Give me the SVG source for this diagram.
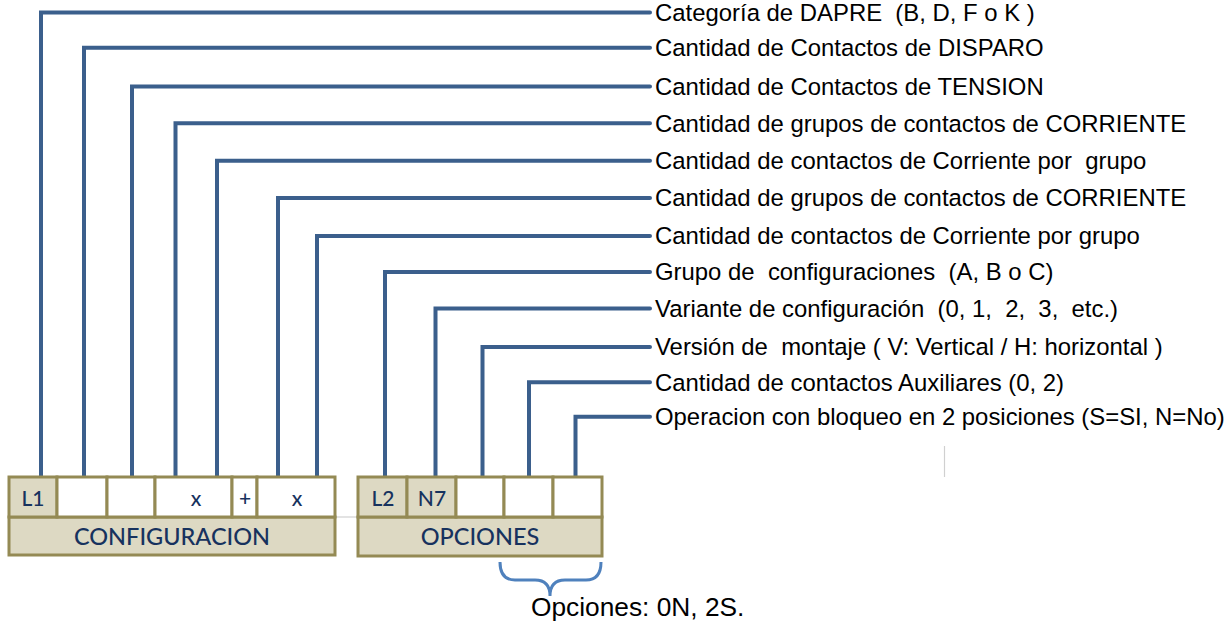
<svg xmlns="http://www.w3.org/2000/svg" width="1226" height="624" viewBox="0 0 1226 624">
<style>
.c{fill:none;stroke:#3b5f8c;stroke-width:4;stroke-linejoin:miter;stroke-linecap:round}
.lbl{font-family:"Liberation Sans",Arial,sans-serif;font-size:23.9px;fill:#000;white-space:pre}
.tan{fill:#ddd9c3;stroke:#948a54;stroke-width:3}
.wht{fill:#fff;stroke:#948a54;stroke-width:3}
.ct{font-family:Lato,"Open Sans",sans-serif;font-size:21px;font-weight:500;fill:#17325e;text-anchor:middle}
.big{font-family:Lato,"Open Sans",sans-serif;font-size:23.5px;font-weight:500;fill:#17325e;text-anchor:middle}
</style>
<rect width="1226" height="624" fill="#fff"/>
<g id="connectors">
<path class="c" d="M41,476V12.5H650"/>
<path class="c" d="M84,476V47.7H650"/>
<path class="c" d="M132,476V86.5H650"/>
<path class="c" d="M175.5,476V123.3H650"/>
<path class="c" d="M217,476V160.7H650"/>
<path class="c" d="M278,476V198H650"/>
<path class="c" d="M317,476V236H650"/>
<path class="c" d="M385,476V272H650"/>
<path class="c" d="M435.5,476V308.5H650"/>
<path class="c" d="M482.5,476V347H650"/>
<path class="c" d="M529,476V382.3H650"/>
<path class="c" d="M575.5,476V416.7H650"/>
<line x1="335" y1="517" x2="358" y2="517" stroke="#d0d0d0" stroke-width="1.2"/>
<line x1="944.5" y1="446" x2="944.5" y2="477" stroke="#d0d0d0" stroke-width="1.2"/>
</g>
<g id="labels">
<text class="lbl" x="655" y="20.8">Categoría de DAPRE  (B, D, F o K )</text>
<text class="lbl" x="655" y="56">Cantidad de Contactos de DISPARO</text>
<text class="lbl" x="655" y="94.8">Cantidad de Contactos de TENSION</text>
<text class="lbl" x="655" y="131.6">Cantidad de grupos de contactos de CORRIENTE</text>
<text class="lbl" x="655" y="169">Cantidad de contactos de Corriente por  grupo</text>
<text class="lbl" x="655" y="206.3">Cantidad de grupos de contactos de CORRIENTE</text>
<text class="lbl" x="655" y="244.3">Cantidad de contactos de Corriente por grupo</text>
<text class="lbl" x="655" y="280.3">Grupo de  configuraciones  (A, B o C)</text>
<text class="lbl" x="655" y="316.8">Variante de configuración  (0, 1,  2,  3,  etc.)</text>
<text class="lbl" x="655" y="355.3">Versión de  montaje ( V: Vertical / H: horizontal )</text>
<text class="lbl" x="655" y="390.6">Cantidad de contactos Auxiliares (0, 2)</text>
<text class="lbl" x="655" y="425">Operacion con bloqueo en 2 posiciones (S=SI, N=No)</text>
</g>
<g id="configuracion">
<rect class="tan" x="9" y="517" width="326" height="38"/>
<rect class="tan" x="9" y="477" width="48" height="40"/>
<rect class="wht" x="57" y="477" width="50" height="40"/>
<rect class="wht" x="107" y="477" width="48" height="40"/>
<rect class="wht" x="155" y="477" width="77" height="40"/>
<rect class="wht" x="232" y="477" width="25" height="40"/>
<rect class="wht" x="257" y="477" width="78" height="40"/>
<text class="ct" x="33" y="506">L1</text>
<text class="ct" x="196" y="506">x</text>
<text class="ct" x="245" y="506">+</text>
<text class="ct" x="297" y="506">x</text>
<text class="big" x="172" y="545">CONFIGURACION</text>
</g>
<g id="opciones">
<rect class="tan" x="358" y="517" width="244" height="39"/>
<rect class="tan" x="358" y="477" width="49" height="40"/>
<rect class="tan" x="407" y="477" width="49" height="40"/>
<rect class="wht" x="456" y="477" width="48" height="40"/>
<rect class="wht" x="504" y="477" width="49" height="40"/>
<rect class="wht" x="553" y="477" width="49" height="40"/>
<text class="ct" x="383" y="506">L2</text>
<text class="ct" x="432" y="506">N7</text>
<text class="big" x="480" y="545">OPCIONES</text>
</g>
<g id="bracket">
<path d="M500,562Q500,580 515,580H535Q550,580 550,596Q550,580 565,580H586Q601,580 601,562" fill="none" stroke="#4f81bd" stroke-width="3"/>
<text x="531" y="616" style="font-family:'Liberation Sans',Arial,sans-serif;font-size:26.3px;fill:#000">Opciones: 0N, 2S.</text>
</g>
</svg>
